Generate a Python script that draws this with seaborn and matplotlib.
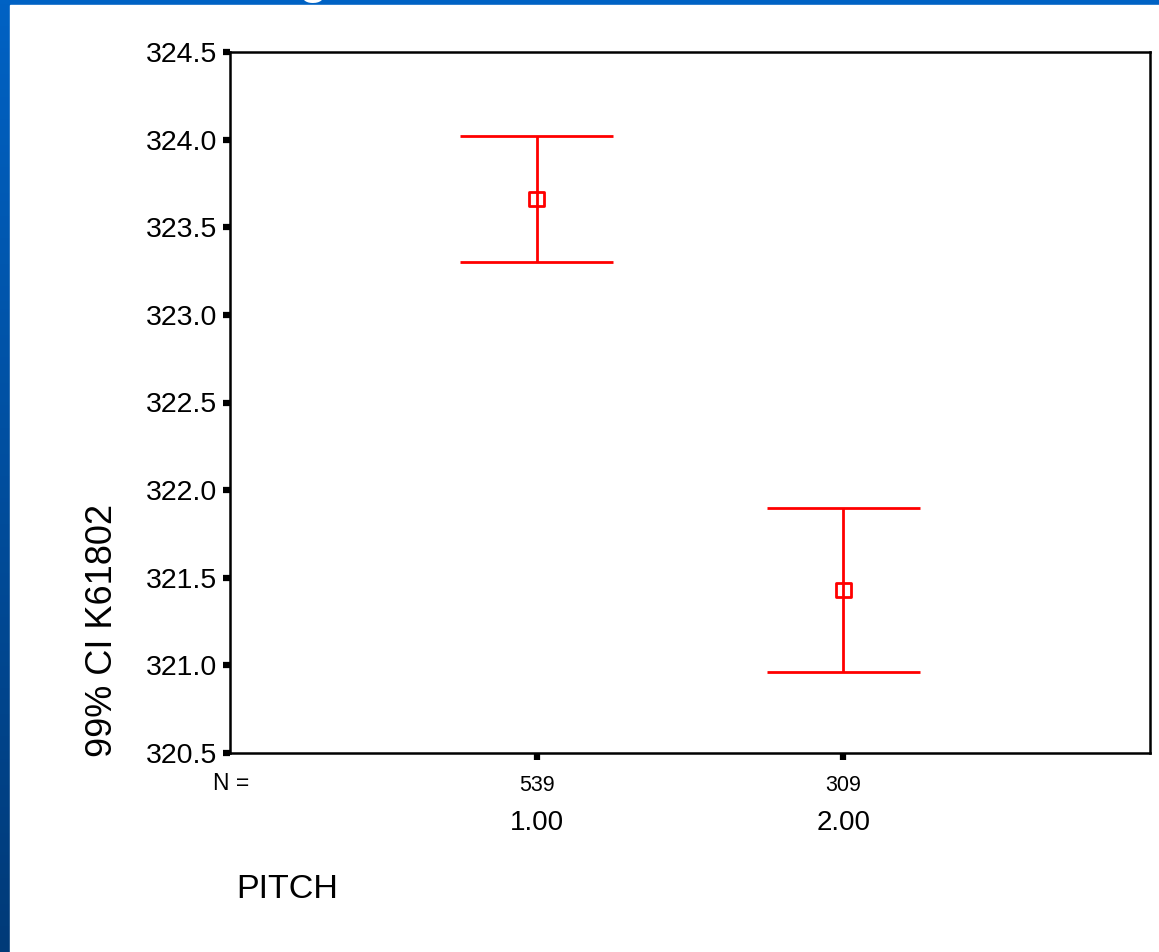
import numpy as np
import pandas as pd
import matplotlib
matplotlib.use("Agg")
import matplotlib.pyplot as plt
import matplotlib.patches as mpatches
from matplotlib.colors import LinearSegmentedColormap
import seaborn as sns

# values
groups = ["1.00", "2.00"]
n_values = [539, 309]
means = [323.66, 321.43]
ci_low = [323.30, 320.96]
ci_high = [324.02, 321.90]
y_ticks = [320.5, 321.0, 321.5, 322.0, 322.5, 323.0, 323.5, 324.0, 324.5]

df = pd.DataFrame({"pos": np.arange(len(groups)), "group": groups,
                   "n": n_values, "mean": means, "lo": ci_low, "hi": ci_high})

sns.set_theme(style="white")
plt.rcParams["font.family"] = ["Liberation Sans", "DejaVu Sans"]
plt.rcParams.update({"text.color": "black", "axes.labelcolor": "black",
                     "xtick.color": "black", "ytick.color": "black"})

fig = plt.figure(figsize=(11.59, 9.52), dpi=100)

# slide background: blue gradient strip with white panel
bg = fig.add_axes([0, 0, 1, 1], zorder=-10)
bg.set_axis_off()
cmap = LinearSegmentedColormap.from_list("slide", ["#0062c4", "#003a78"])
bg.imshow(np.linspace(0, 1, 256).reshape(-1, 1), cmap=cmap, aspect="auto",
          extent=[0, 1, 0, 1], transform=bg.transAxes)
bg.add_patch(mpatches.Rectangle((10 / 1159, 0), 1, 1 - 5 / 952,
                                transform=bg.transAxes, color="white"))
fig.text(313 / 1159, 1 + 9 / 952, "g", color="white", fontsize=40,
         ha="center", va="baseline")

ax = fig.add_axes([230 / 1159, 1 - 753 / 952, 920 / 1159, 701 / 952])
ax.set_facecolor("white")

red = "#ff0000"
cap = 0.25
lw = 2.0
ax.vlines(df["pos"], df["lo"], df["hi"], color=red, lw=lw, zorder=2)
ax.hlines(df["hi"], df["pos"] - cap, df["pos"] + cap, color=red, lw=lw, zorder=2)
ax.hlines(df["lo"], df["pos"] - cap, df["pos"] + cap, color=red, lw=lw, zorder=2)
sns.scatterplot(data=df, x="pos", y="mean", marker="s", s=110,
                facecolor="none", edgecolor=red, linewidth=lw, ax=ax, zorder=3)

ax.set_xlim(-1, 2)
ax.set_ylim(320.5, 324.5)
ax.set_yticks(y_ticks)
ax.set_yticklabels([f"{v:.1f}" for v in y_ticks], fontsize=20.5)
ax.set_xticks(df["pos"])
ax.set_xticklabels([str(n) for n in n_values], fontsize=15.5)
ax.tick_params(axis="y", direction="out", length=5, width=4.5, pad=4,
               colors="black", left=True)
ax.tick_params(axis="x", direction="out", length=5, width=4.5, pad=11,
               colors="black", bottom=True)
ax.set_xlabel("")
ax.set_ylabel("")
for sp in ax.spines.values():
    sp.set_visible(True)
    sp.set_color("black")
    sp.set_linewidth(1.8)

ax.annotate("N =", xy=(-1, 0), xycoords=("data", "axes fraction"),
            xytext=(1, -22), textcoords="offset points",
            ha="center", va="center", fontsize=16.5)
for p, g in zip(df["pos"], df["group"]):
    ax.annotate(g, xy=(p, 0), xycoords=("data", "axes fraction"),
                xytext=(0, -50.5), textcoords="offset points",
                ha="center", va="center", fontsize=20)

fig.text(103 / 1159, 1 - 630 / 952, "99% CI K61802", rotation=90,
         fontsize=26, ha="center", va="center")
fig.text(236 / 1159, 1 - 889 / 952, "PITCH", fontsize=24.5,
         ha="left", va="center")

fig.savefig("out.png", dpi=100)
